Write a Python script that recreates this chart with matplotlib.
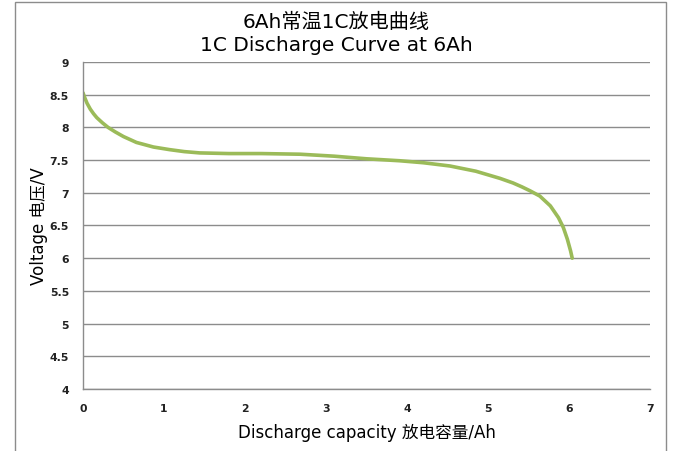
import matplotlib
matplotlib.use('Agg')
import matplotlib.pyplot as plt
from matplotlib.patches import Rectangle

plt.rcParams['font.family'] = ['DejaVu Sans', 'Noto Sans CJK SC']

# discharge curve
capacity = [0.0, 0.02, 0.05, 0.09, 0.13, 0.17, 0.24, 0.31, 0.4, 0.5, 0.66, 0.87, 1.07,
            1.25, 1.44, 1.8, 2.2, 2.68, 3.1, 3.5, 3.91, 4.2, 4.53, 4.85, 5.15, 5.31,
            5.42, 5.52, 5.64, 5.77, 5.87, 5.93, 5.98, 6.02, 6.04]
voltage = [8.53, 8.46, 8.37, 8.28, 8.21, 8.15, 8.07, 8.0, 7.93, 7.86, 7.77, 7.70, 7.66,
           7.63, 7.61, 7.60, 7.60, 7.59, 7.56, 7.52, 7.49, 7.46, 7.41, 7.33, 7.22, 7.15,
           7.09, 7.03, 6.95, 6.80, 6.62, 6.47, 6.29, 6.11, 6.0]

x_ticks = [0, 1, 2, 3, 4, 5, 6, 7]
y_ticks = [4, 4.5, 5, 5.5, 6, 6.5, 7, 7.5, 8, 8.5, 9]
y_tick_labels = ['4', '4.5', '5', '5.5', '6', '6.5', '7', '7.5', '8', '8.5', '9']

title = '6Ah常温1C放电曲线\n1C Discharge Curve at 6Ah'
x_label = 'Discharge capacity 放电容量/Ah'
y_label = 'Voltage 电压/V'

fig = plt.figure(figsize=(6.73, 4.52), dpi=100)
ax = fig.add_axes([0.1233, 0.1372, 0.8425, 0.7234])

# outer chart frame
fig.patches.append(Rectangle((15 / 673, -0.05), 651 / 673, 1.05 - 3 / 452,
                             transform=fig.transFigure, fill=False,
                             edgecolor='#8c8c8c', linewidth=1.0))

ax.plot(capacity, voltage, color='#9bbb59', linewidth=2.6,
        solid_capstyle='round', solid_joinstyle='round')

ax.set_xlim(0, 7)
ax.set_ylim(4, 9)
ax.set_xticks(x_ticks)
ax.set_yticks(y_ticks)
ax.set_yticklabels(y_tick_labels)
ax.yaxis.grid(True, color='#8c8c8c', linewidth=1.0)
ax.set_axisbelow(True)
ax.tick_params(length=0, labelsize=7.8, colors='#222222', pad=10)
ax.tick_params(axis='x', pad=10)
for lab in ax.get_xticklabels() + ax.get_yticklabels():
    lab.set_fontweight('bold')

for side in ['top', 'right']:
    ax.spines[side].set_visible(False)
for side in ['left', 'bottom']:
    ax.spines[side].set_color('#8c8c8c')
    ax.spines[side].set_linewidth(1.0)

ax.set_xlabel(x_label, fontsize=12, labelpad=7)
ax.set_ylabel(y_label, fontsize=12, labelpad=1)
fig.text(0.5, 0.972, title, ha='center', va='top', fontsize=14.5, linespacing=1.3)

fig.savefig('out.png', dpi=100)
